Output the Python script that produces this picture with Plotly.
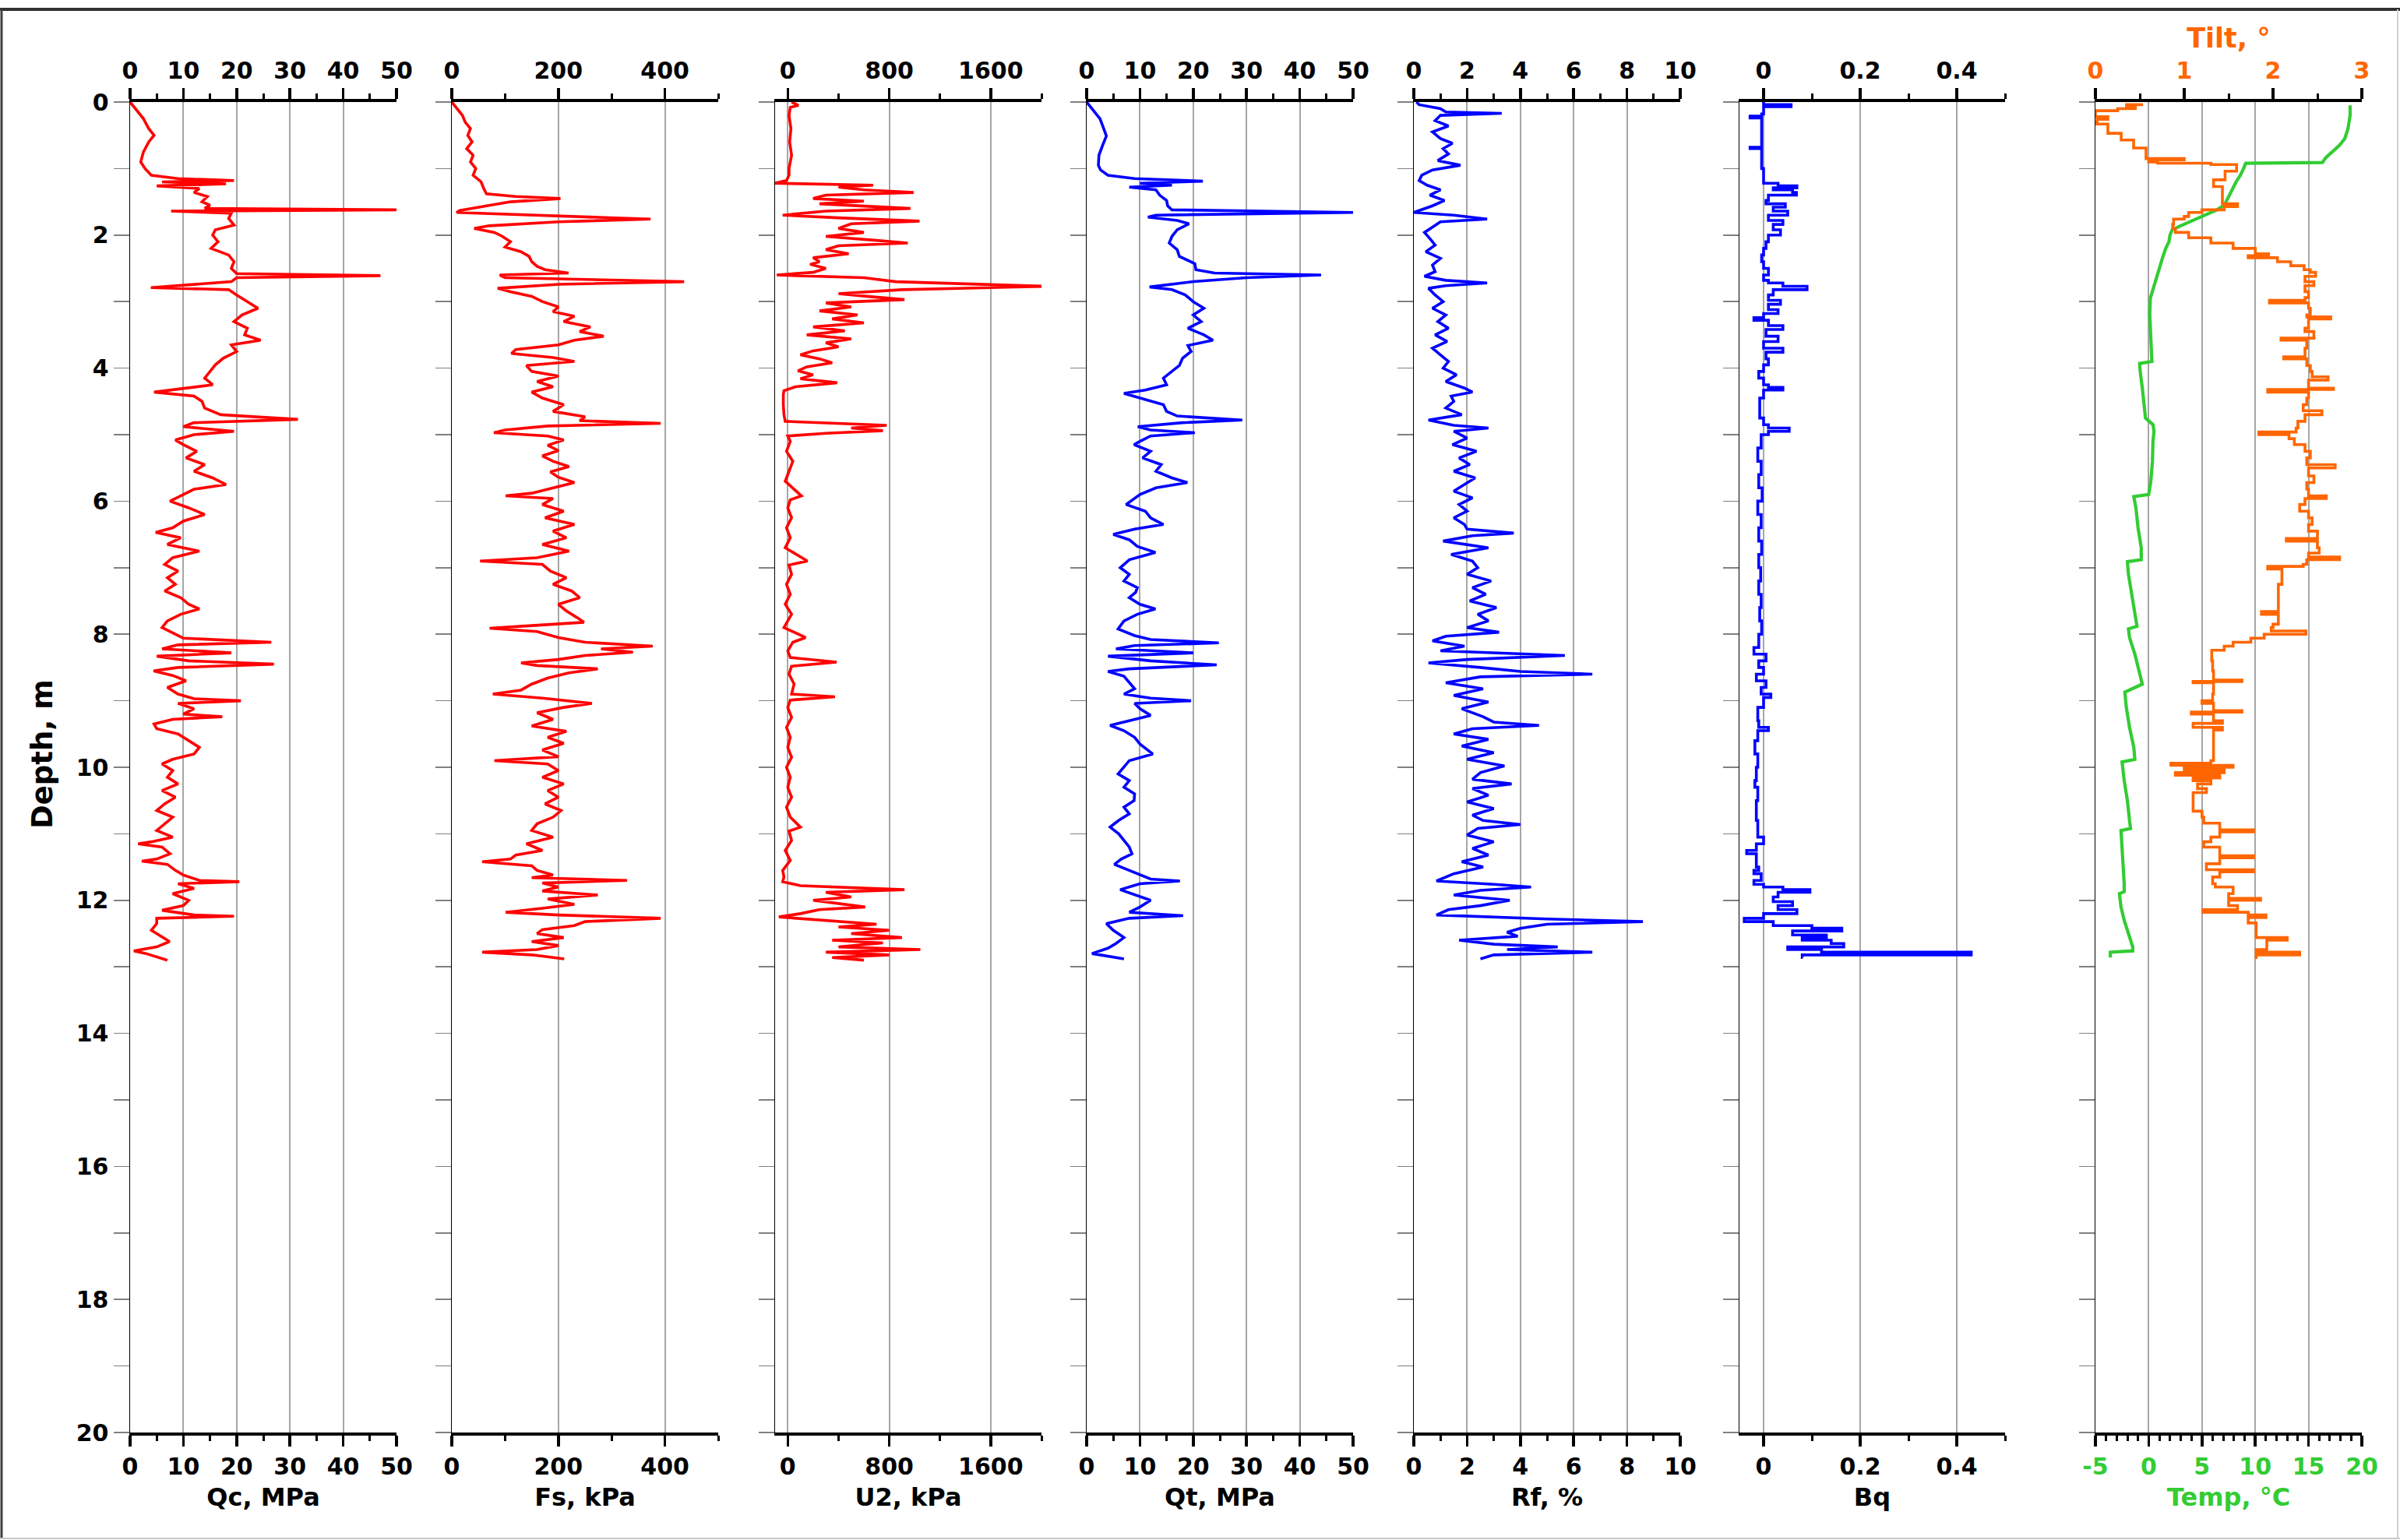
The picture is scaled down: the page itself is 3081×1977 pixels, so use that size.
import plotly.graph_objects as go

# ---------------- data ----------------
qc_depth = [0.00,0.10,0.25,0.40,0.50,0.60,0.75,0.90,1.00,1.10,
            1.15,1.18,1.20,1.23,1.26,1.30,1.36,1.42,1.50,1.55,
            1.60,1.62,1.64,1.67,1.75,1.85,1.92,2.00,2.10,2.20,
            2.30,2.40,2.50,2.58,2.61,2.64,2.70,2.79,2.82,2.90,
            3.00,3.10,3.20,3.30,3.40,3.50,3.58,3.65,3.75,3.85,
            3.95,4.05,4.15,4.25,4.32,4.36,4.42,4.50,4.60,4.70,
            4.77,4.82,4.88,4.95,5.00,5.08,5.15,5.25,5.35,5.45,
            5.55,5.65,5.75,5.82,5.90,6.00,6.10,6.20,6.30,6.40,
            6.47,6.55,6.65,6.75,6.85,6.95,7.05,7.15,7.25,7.35,
            7.45,7.55,7.62,7.70,7.80,7.90,8.00,8.06,8.12,8.16,
            8.22,8.28,8.33,8.40,8.45,8.50,8.55,8.62,8.70,8.80,
            8.90,8.97,9.00,9.04,9.12,9.20,9.24,9.28,9.35,9.42,
            9.50,9.60,9.70,9.80,9.88,9.95,10.05,10.15,10.25,10.35,
            10.45,10.55,10.65,10.75,10.85,10.95,11.05,11.12,11.15,11.20,
            11.30,11.38,11.41,11.46,11.55,11.62,11.70,11.72,11.75,11.82,
            11.90,12.00,12.08,12.15,12.22,12.24,12.27,12.35,12.45,12.55,
            12.62,12.70,12.76,12.80,12.85,12.90]
qc_mpa = [0.0,1.0,2.5,3.5,4.5,3.5,2.5,2.0,2.8,4.0,
          9.0,19.5,6.0,18.0,5.0,13.0,12.0,14.5,13.5,15.0,
          14.0,51.5,7.7,19.0,18.5,19.5,16.0,15.5,16.5,15.2,
          18.5,19.5,19.0,20.0,47.0,20.0,19.0,3.9,18.5,20.0,
          22.0,24.0,21.0,19.5,22.0,21.5,24.5,19.0,20.0,17.5,
          16.0,15.0,14.0,15.5,9.0,4.5,12.0,13.5,14.0,17.0,
          31.5,12.0,10.0,19.5,12.0,8.5,10.0,12.5,10.5,14.0,
          12.0,15.5,18.0,12.0,10.0,7.5,11.0,14.0,10.0,8.0,
          4.8,9.5,7.0,13.0,8.0,6.5,9.0,7.0,8.5,6.5,
          9.5,11.0,13.0,9.5,7.0,6.0,8.5,10.0,26.5,9.0,
          6.0,19.0,5.0,11.0,27.0,9.0,4.4,8.0,10.5,7.0,
          9.0,12.0,20.8,9.0,12.0,10.0,17.3,8.0,4.5,5.0,
          9.0,11.0,13.0,12.0,8.0,6.0,8.0,7.0,9.0,6.0,
          8.5,6.5,5.0,8.0,6.5,5.0,8.0,4.0,1.5,6.0,
          7.5,5.0,2.2,7.0,8.5,10.0,13.0,20.5,9.0,12.0,
          8.0,11.0,10.0,6.0,12.0,19.5,5.0,5.0,4.0,6.0,
          7.4,5.0,0.7,3.0,5.0,7.0]

fs_depth = [0.00,0.10,0.20,0.30,0.40,0.50,0.60,0.70,0.80,0.90,
            1.00,1.10,1.20,1.30,1.38,1.42,1.45,1.50,1.58,1.63,
            1.66,1.70,1.76,1.80,1.86,1.90,1.96,2.02,2.10,2.18,
            2.25,2.32,2.40,2.47,2.52,2.57,2.60,2.64,2.70,2.74,
            2.80,2.85,2.92,3.00,3.08,3.15,3.22,3.30,3.38,3.45,
            3.52,3.58,3.65,3.72,3.78,3.84,3.90,3.96,4.05,4.12,
            4.20,4.28,4.36,4.45,4.55,4.65,4.73,4.79,4.83,4.87,
            4.93,4.97,5.02,5.08,5.16,5.24,5.32,5.40,5.48,5.56,
            5.64,5.72,5.80,5.88,5.92,5.96,6.05,6.15,6.25,6.35,
            6.45,6.55,6.65,6.75,6.85,6.90,6.95,7.05,7.15,7.25,
            7.35,7.45,7.55,7.65,7.75,7.82,7.87,7.91,7.96,8.05,
            8.12,8.18,8.22,8.27,8.32,8.38,8.43,8.47,8.52,8.58,
            8.66,8.75,8.84,8.90,8.96,9.04,9.10,9.18,9.28,9.38,
            9.46,9.55,9.64,9.74,9.84,9.90,9.95,10.05,10.15,10.25,
            10.35,10.45,10.55,10.65,10.75,10.85,10.95,11.05,11.15,11.25,
            11.32,11.38,11.42,11.48,11.55,11.62,11.66,11.70,11.74,11.80,
            11.86,11.92,11.98,12.06,12.12,12.18,12.22,12.27,12.32,12.38,
            12.44,12.50,12.56,12.62,12.68,12.74,12.78,12.82,12.88]
fs_kpa = [0,10,20,25,35,30,38,28,40,35,
          45,40,55,60,65,120,204,110,50,15,
          9,150,373,200,70,42,80,95,110,100,
          130,145,150,160,175,219,90,100,436,200,
          86,110,150,170,200,190,230,210,260,240,
          285,230,200,120,112,190,230,140,150,200,
          160,190,150,170,210,190,250,240,392,180,
          100,79,180,210,180,200,170,190,220,185,
          200,230,190,150,101,190,170,210,175,230,
          190,215,170,220,160,53,170,185,215,190,
          225,240,200,215,235,248,150,71,160,200,
          250,377,280,340,250,200,130,160,274,220,
          180,150,130,77,170,263,210,160,190,150,
          215,180,210,170,200,80,180,200,170,210,
          180,200,175,205,190,160,150,190,140,170,
          120,110,57,150,160,190,150,329,170,200,
          170,274,180,230,170,101,200,392,250,230,
          170,160,210,150,200,160,57,150,211]

u2_depth = [0.00,0.05,0.08,0.20,0.40,0.60,0.80,1.00,1.10,1.18,
            1.22,1.25,1.28,1.32,1.36,1.40,1.45,1.49,1.53,1.57,
            1.60,1.64,1.70,1.74,1.79,1.83,1.90,1.96,2.02,2.08,
            2.12,2.16,2.22,2.28,2.34,2.40,2.44,2.50,2.56,2.60,
            2.64,2.70,2.77,2.82,2.88,2.92,2.97,3.02,3.08,3.14,
            3.20,3.26,3.32,3.38,3.44,3.50,3.56,3.62,3.68,3.74,
            3.80,3.86,3.92,3.98,4.04,4.10,4.16,4.22,4.28,4.34,
            4.40,4.55,4.70,4.80,4.83,4.86,4.90,4.94,4.98,5.02,
            5.10,5.25,5.40,5.55,5.70,5.92,5.98,6.10,6.25,6.40,
            6.55,6.70,6.90,6.96,7.10,7.25,7.40,7.55,7.70,7.90,
            8.05,8.12,8.25,8.35,8.42,8.48,8.60,8.75,8.90,8.94,
            8.99,9.10,9.25,9.40,9.55,9.70,9.85,10.00,10.15,10.30,
            10.45,10.60,10.75,10.90,10.96,11.10,11.25,11.40,11.55,11.65,
            11.72,11.78,11.84,11.88,11.95,12.00,12.06,12.10,12.14,12.20,
            12.25,12.30,12.36,12.40,12.45,12.50,12.56,12.60,12.64,12.70,
            12.74,12.78,12.82,12.86,12.90]
u2_kpa = [30,84,20,10,25,15,30,10,10,-10,
          -100,673,400,600,992,300,200,600,250,700,
          967,300,-40,400,1039,500,400,600,300,700,
          946,400,300,480,200,250,177,300,200,-87,
          600,850,2040,900,400,620,920,300,500,250,
          550,350,600,200,450,150,500,300,400,200,
          100,250,350,150,80,200,100,390,60,-30,
          -35,-35,-30,-20,400,780,500,750,300,0,
          20,-10,40,10,-20,108,20,0,30,-10,
          20,-20,155,10,30,-10,20,-20,30,-30,
          140,40,0,20,385,30,10,50,30,372,
          20,0,30,-10,20,0,30,-10,20,0,
          30,-10,20,100,10,30,-20,20,-40,-30,
          -40,100,920,300,500,200,450,610,250,100,
          -70,300,700,400,800,500,900,350,750,400,
          1045,300,800,350,600]

qt_depth = [0.00,0.10,0.25,0.40,0.51,0.65,0.80,0.95,1.02,1.10,
            1.15,1.19,1.22,1.25,1.28,1.32,1.40,1.48,1.56,1.62,
            1.66,1.70,1.73,1.78,1.83,1.92,2.02,2.12,2.22,2.32,
            2.43,2.52,2.57,2.60,2.64,2.70,2.78,2.82,2.90,3.00,
            3.10,3.20,3.30,3.40,3.50,3.58,3.66,3.75,3.85,3.96,
            4.05,4.15,4.25,4.33,4.38,4.45,4.55,4.65,4.72,4.78,
            4.82,4.88,4.93,4.97,5.02,5.10,5.15,5.25,5.35,5.45,
            5.55,5.65,5.72,5.80,5.90,6.05,6.15,6.25,6.35,6.42,
            6.50,6.58,6.68,6.77,6.88,7.00,7.10,7.20,7.30,7.37,
            7.45,7.55,7.62,7.70,7.80,7.92,8.02,8.08,8.13,8.17,
            8.22,8.28,8.33,8.40,8.46,8.52,8.56,8.63,8.73,8.82,
            8.90,8.96,9.00,9.04,9.12,9.22,9.30,9.37,9.45,9.55,
            9.65,9.80,9.90,10.00,10.10,10.20,10.30,10.40,10.50,10.60,
            10.70,10.80,10.90,11.00,11.10,11.20,11.30,11.38,11.46,11.55,
            11.62,11.68,11.71,11.75,11.84,11.92,12.00,12.10,12.18,12.21,
            12.23,12.27,12.35,12.45,12.56,12.65,12.72,12.80,12.84,12.88]
qt_mpa = [0.0,1.0,2.5,3.2,3.7,3.0,2.3,2.2,2.6,4.0,
          9.0,21.8,10.0,16.0,8.0,13.0,13.7,15.0,15.2,16.0,
          50.0,13.0,11.5,17.0,19.2,17.0,16.0,15.5,17.0,17.4,
          20.3,20.5,24.0,44.0,30.0,20.0,11.8,16.0,18.5,20.0,
          22.0,20.0,21.5,19.0,22.0,23.7,19.0,19.6,18.0,17.4,
          15.9,14.4,15.0,11.0,7.0,10.0,14.4,15.0,17.0,29.2,
          18.0,9.6,12.0,20.3,12.0,10.0,8.9,12.0,10.5,14.0,
          13.0,16.0,18.9,13.0,10.0,7.4,11.0,12.0,14.4,9.0,
          5.0,8.0,9.5,12.9,8.0,6.3,8.0,7.0,9.5,9.2,
          8.0,10.0,12.9,9.5,7.0,5.9,9.0,12.0,24.8,9.0,
          5.5,20.0,4.0,12.0,24.4,8.0,4.0,7.0,8.0,9.0,
          7.0,12.0,19.6,9.0,10.0,12.0,8.0,4.4,7.0,9.0,
          10.0,12.4,8.0,7.0,5.9,8.0,7.0,9.0,8.9,7.0,
          8.0,6.0,4.4,6.0,7.0,8.0,8.5,6.5,5.2,8.0,
          10.0,12.0,17.5,10.0,6.3,9.0,12.0,10.0,8.0,14.0,
          18.1,8.0,3.7,5.0,7.0,5.5,4.0,1.0,4.0,7.0]

rf_depth = [0.00,0.04,0.10,0.15,0.17,0.20,0.28,0.36,0.45,0.55,
            0.62,0.70,0.78,0.88,0.95,1.02,1.10,1.18,1.25,1.32,
            1.40,1.48,1.56,1.62,1.66,1.70,1.76,1.80,1.88,1.96,
            2.05,2.15,2.25,2.35,2.45,2.55,2.62,2.68,2.72,2.76,
            2.80,2.90,3.00,3.10,3.20,3.30,3.40,3.50,3.60,3.70,
            3.80,3.90,4.00,4.10,4.20,4.30,4.36,4.42,4.50,4.60,
            4.70,4.78,4.86,4.90,4.95,5.05,5.15,5.25,5.35,5.45,
            5.55,5.65,5.75,5.85,5.95,6.05,6.15,6.25,6.35,6.42,
            6.48,6.52,6.60,6.70,6.80,6.90,7.00,7.10,7.20,7.30,
            7.40,7.50,7.60,7.70,7.80,7.90,7.97,8.03,8.10,8.18,
            8.25,8.32,8.38,8.43,8.50,8.56,8.60,8.64,8.73,8.82,
            8.92,9.02,9.12,9.24,9.32,9.37,9.42,9.50,9.58,9.68,
            9.78,9.88,9.98,10.08,10.18,10.25,10.32,10.42,10.52,10.62,
            10.72,10.80,10.86,10.92,11.02,11.12,11.22,11.32,11.42,11.50,
            11.60,11.68,11.71,11.76,11.80,11.85,11.92,12.00,12.08,12.14,
            12.20,12.22,12.28,12.32,12.36,12.42,12.48,12.54,12.60,12.66,
            12.70,12.74,12.78,12.82,12.88]
rf_pct = [0.1,0.2,1.0,1.2,3.3,1.0,0.8,1.3,0.7,1.0,
          1.45,1.1,1.3,0.9,1.75,0.7,0.3,0.2,0.5,1.0,
          0.6,1.15,0.7,0.3,0.0,1.5,2.75,1.0,0.7,0.4,
          0.6,0.8,0.45,1.0,0.7,0.8,0.4,1.2,2.75,1.2,
          0.55,0.8,1.1,0.7,1.2,0.9,1.3,0.8,1.25,0.7,
          1.0,1.3,1.1,1.6,1.2,1.9,2.2,1.4,1.5,1.2,
          1.8,0.55,1.5,2.8,1.5,2.0,1.45,2.35,1.7,2.1,
          1.5,2.3,1.9,1.5,2.2,1.7,2.0,1.5,1.9,2.0,
          3.75,2.2,1.1,2.8,1.4,2.2,2.4,2.0,2.9,2.2,
          2.7,2.1,3.1,2.4,2.8,2.0,3.2,1.2,0.7,1.9,
          1.0,5.67,2.0,0.55,2.5,4.0,6.7,2.5,1.2,2.6,
          1.5,2.8,1.8,2.6,3.0,4.7,2.2,1.5,2.8,1.8,
          3.0,2.0,3.4,2.5,2.2,3.67,2.2,2.8,2.0,3.0,
          2.2,2.6,4.0,2.4,2.0,3.0,2.2,2.8,1.8,2.6,
          1.5,1.0,0.85,3.0,4.4,2.5,1.5,3.6,2.5,1.3,
          1.0,0.85,5.0,8.6,5.0,4.0,3.5,3.9,1.7,3.0,
          5.4,3.5,6.7,3.0,2.5]

bq_depth = [0.00,0.04,0.07,0.18,0.21,0.24,0.66,0.68,0.70,0.95,
            1.00,1.18,1.22,1.26,1.29,1.32,1.36,1.40,1.48,1.53,
            1.58,1.64,1.70,1.78,1.84,1.92,2.00,2.10,2.20,2.30,
            2.40,2.50,2.60,2.68,2.72,2.77,2.82,2.90,2.98,3.04,
            3.12,3.18,3.24,3.28,3.36,3.42,3.52,3.60,3.70,3.76,
            3.86,3.95,4.05,4.15,4.25,4.29,4.33,4.45,4.60,4.75,
            4.85,4.90,4.95,5.00,5.20,5.40,5.60,5.80,6.00,6.20,
            6.40,6.60,6.80,7.00,7.20,7.40,7.60,7.80,8.00,8.20,
            8.30,8.40,8.50,8.60,8.70,8.80,8.90,8.95,9.10,9.30,
            9.40,9.45,9.60,9.80,10.00,10.20,10.30,10.50,10.80,11.00,
            11.05,11.15,11.25,11.30,11.50,11.55,11.60,11.70,11.76,11.80,
            11.84,11.88,11.95,12.02,12.08,12.14,12.20,12.27,12.32,12.38,
            12.42,12.46,12.52,12.56,12.60,12.65,12.70,12.74,12.78,12.82,
            12.86]
bq_val = [0.0,0.057,0.0,-0.004,-0.028,-0.004,-0.004,-0.028,-0.004,-0.004,
          0.0,0.0,0.03,0.069,0.02,0.06,0.068,0.01,0.005,0.045,
          0.02,0.05,0.01,0.04,0.02,0.035,0.01,0.005,0.0,-0.004,
          0.0,0.01,0.0,0.01,0.04,0.09,0.02,0.01,0.035,0.01,
          0.03,0.0,-0.02,0.01,0.04,0.005,0.03,0.0,0.04,0.005,
          0.01,0.0,-0.01,0.0,0.01,0.04,0.0,-0.008,-0.008,0.0,
          0.01,0.053,0.01,-0.005,-0.012,-0.005,-0.01,-0.003,-0.012,-0.005,
          -0.01,-0.004,-0.01,-0.006,-0.01,-0.005,-0.008,-0.004,-0.01,-0.02,
          0.005,-0.01,0.0,-0.015,0.005,-0.005,0.015,0.0,-0.012,-0.01,
          0.01,-0.012,-0.018,-0.012,-0.015,-0.018,-0.012,-0.015,-0.012,-0.012,
          0.0,-0.015,-0.035,-0.015,-0.01,-0.02,-0.005,-0.02,0.0,0.04,
          0.096,0.03,0.02,0.06,0.03,0.069,0.0,-0.04,0.02,0.1,
          0.162,0.06,0.13,0.08,0.14,0.166,0.05,0.12,0.43,0.08,
          0.081]

tilt_depth = [0.02,0.04,0.07,0.10,0.13,0.20,0.22,0.26,0.30,0.33,
              0.45,0.47,0.55,0.57,0.66,0.69,0.83,0.85,0.87,0.90,
              0.92,0.94,1.02,1.04,1.14,1.17,1.24,1.27,1.50,1.53,
              1.57,1.62,1.66,1.72,1.76,1.84,1.90,1.96,2.04,2.12,
              2.20,2.28,2.31,2.34,2.40,2.46,2.52,2.56,2.62,2.70,
              2.76,2.85,2.94,2.98,3.02,3.10,3.20,3.23,3.26,3.40,
              3.45,3.55,3.58,3.70,3.83,3.86,3.96,4.05,4.13,4.18,
              4.30,4.32,4.36,4.45,4.55,4.64,4.70,4.80,4.90,4.96,
              5.00,5.06,5.15,5.25,5.35,5.45,5.50,5.62,5.72,5.82,
              5.92,5.96,6.05,6.15,6.25,6.35,6.45,6.56,6.60,6.70,
              6.78,6.84,6.88,6.95,6.98,7.02,7.20,7.25,7.50,7.66,
              7.70,7.85,7.90,7.95,8.00,8.06,8.12,8.18,8.24,8.40,
              8.55,8.69,8.71,8.73,8.90,9.00,9.04,9.15,9.17,9.20,
              9.30,9.34,9.40,9.44,9.60,9.80,9.90,9.94,9.97,10.00,
              10.04,10.08,10.12,10.16,10.20,10.25,10.32,10.38,10.50,10.62,
              10.66,10.75,10.84,10.94,10.97,11.05,11.12,11.20,11.33,11.36,
              11.45,11.54,11.57,11.65,11.75,11.80,11.90,11.97,12.00,12.08,
              12.14,12.18,12.22,12.26,12.34,12.48,12.56,12.60,12.70,12.74,
              12.78,12.82,12.88]
tilt_deg = [0.52,0.35,0.45,0.25,0.0,0.0,0.14,0.02,0.0,0.14,
            0.14,0.29,0.29,0.43,0.43,0.57,0.57,1.0,0.6,0.7,
            1.3,1.59,1.59,1.46,1.46,1.33,1.33,1.43,1.43,1.6,
            1.45,1.2,1.05,1.0,0.88,0.87,0.9,1.05,1.3,1.55,
            1.8,1.95,1.72,2.05,2.2,2.35,2.42,2.48,2.36,2.46,
            2.36,2.40,2.36,1.96,2.40,2.42,2.38,2.65,2.40,2.36,
            2.46,2.09,2.38,2.36,2.12,2.38,2.42,2.44,2.62,2.40,
            2.68,1.94,2.40,2.38,2.34,2.55,2.36,2.28,2.26,1.84,
            2.18,2.24,2.36,2.42,2.38,2.70,2.40,2.46,2.38,2.40,
            2.60,2.36,2.30,2.40,2.44,2.40,2.50,2.15,2.50,2.52,
            2.40,2.75,2.38,2.34,1.94,2.10,2.10,2.06,2.06,1.87,
            2.06,2.00,1.98,2.37,1.90,1.75,1.55,1.45,1.31,1.32,
            1.33,1.65,1.10,1.33,1.32,1.20,1.33,1.65,1.08,1.33,
            1.43,1.10,1.43,1.33,1.33,1.33,1.30,0.85,1.55,1.0,
            1.45,0.9,1.40,1.1,1.30,1.15,1.25,1.10,1.10,1.10,
            1.20,1.22,1.40,1.78,1.40,1.30,1.22,1.40,1.78,1.40,
            1.25,1.78,1.40,1.32,1.35,1.55,1.50,1.86,1.50,1.60,
            1.21,1.72,1.92,1.72,1.81,1.81,2.16,1.93,1.93,1.81,
            2.30,1.81,1.81]

temp_depth = [0.05,0.20,0.40,0.55,0.65,0.75,0.84,0.91,0.92,1.00,
              1.10,1.20,1.30,1.45,1.55,1.62,1.70,1.79,1.86,1.92,
              2.00,2.10,2.20,2.34,2.50,2.60,2.75,2.85,2.95,3.20,
              3.50,3.80,3.90,3.93,4.05,4.30,4.50,4.75,4.85,4.95,
              5.10,5.40,5.70,5.90,5.93,6.10,6.40,6.70,6.88,6.91,
              7.10,7.40,7.70,7.88,7.92,8.05,8.30,8.55,8.75,8.87,
              9.10,9.40,9.70,9.88,9.92,10.20,10.50,10.80,10.92,10.95,
              11.20,11.50,11.75,11.87,11.90,12.10,12.30,12.50,12.70,12.76,
              12.78,12.86]
temp_c = [18.9,18.9,18.7,18.4,17.9,17.2,16.6,16.3,9.1,8.9,
          8.6,8.2,7.9,7.4,7.1,6.4,5.2,4.0,3.0,2.2,
          2.0,1.9,1.6,1.3,1.0,0.8,0.5,0.3,0.15,0.1,
          0.2,0.3,0.3,-0.85,-0.8,-0.6,-0.5,-0.3,0.4,0.5,
          0.4,0.35,0.2,0.0,-1.4,-1.2,-1.0,-0.7,-0.7,-2.0,
          -1.9,-1.6,-1.3,-1.1,-1.9,-1.8,-1.3,-0.9,-0.6,-2.24,
          -2.1,-1.8,-1.4,-1.3,-2.5,-2.3,-2.0,-1.8,-1.7,-2.6,
          -2.5,-2.35,-2.3,-2.3,-2.75,-2.6,-2.3,-1.9,-1.5,-1.5,
          -3.6,-3.6]

depth_ticks = list(range(0, 21))
depth_labels = [str(v) if v % 2 == 0 else "" for v in depth_ticks]
temp_ticks = [-5, 0, 5, 10, 15, 20]
temp_labels = ["-5", "0", "5", "10", "15", "20"]

for a, b in [(qc_depth, qc_mpa), (fs_depth, fs_kpa), (u2_depth, u2_kpa), (qt_depth, qt_mpa),
             (rf_depth, rf_pct), (bq_depth, bq_val), (tilt_depth, tilt_deg), (temp_depth, temp_c)]:
    assert len(a) == len(b), (len(a), len(b))

# ---------------- layout geometry / styling ----------------
W, H = 3081, 1977
Y_TOP, Y_BOT = 131, 1839
FONT = "DejaVu Sans, Liberation Sans, sans-serif"
GRID = "#A6A6A6"
RED, BLUE, ORANGE, GREEN = "#FF0000", "#0000FF", "#FF6600", "#33CC33"
TICK_SIZE = 30
TITLE_SIZE = 32


def fx(p):
    return p / W


def fy(p):
    return 1 - p / H


panels = [
    dict(left=167, right=509, rng=[0, 50], dtick=10, minor=5, title="Qc, MPa"),
    dict(left=580, right=922, rng=[0, 500], dtick=200, minor=100, title="Fs, kPa"),
    dict(left=995, right=1337, rng=[-100, 2000], dtick=800, minor=400, title="U2, kPa"),
    dict(left=1395, right=1737, rng=[0, 50], dtick=10, minor=5, title="Qt, MPa"),
    dict(left=1815, right=2157, rng=[0, 10], dtick=2, minor=1, title="Rf, %"),
    dict(left=2233, right=2574, rng=[-0.05, 0.5], dtick=0.2, minor=0.1, title="Bq"),
    dict(left=2690, right=3032, rng=[-5, 20], dtick=5, minor=1, title="Temp, °C"),
]

fig = go.Figure()


def ax(i):
    return "x" if i == 1 else f"x{i}"


def ay(i):
    return "y" if i == 1 else f"y{i}"


series = [
    (qc_depth, qc_mpa, RED, 1, 1, "linear", 3.6),
    (fs_depth, fs_kpa, RED, 2, 2, "linear", 3.6),
    (u2_depth, u2_kpa, RED, 3, 3, "linear", 3.6),
    (qt_depth, qt_mpa, BLUE, 4, 4, "linear", 3.6),
    (rf_depth, rf_pct, BLUE, 5, 5, "linear", 3.6),
    (bq_depth, bq_val, BLUE, 6, 6, "vh", 3.6),
    (temp_depth, temp_c, GREEN, 7, 7, "linear", 4.2),
    (tilt_depth, tilt_deg, ORANGE, 14, 7, "vh", 3.6),
]
for d, v, color, xi, yi, shape, lw in series:
    fig.add_trace(go.Scatter(x=v, y=d, mode="lines",
                             line=dict(color=color, width=lw, shape=shape),
                             xaxis=ax(xi), yaxis=ay(yi), showlegend=False, hoverinfo="skip"))
# register the mirrored top axes of the first six panels
for i in range(1, 7):
    fig.add_trace(go.Scatter(x=[None], y=[None], xaxis=ax(i + 7), yaxis=ay(i),
                             showlegend=False, hoverinfo="skip"))

layout = dict(width=W, height=H, autosize=False, margin=dict(l=0, r=0, t=0, b=0),
              paper_bgcolor="white", plot_bgcolor="white", showlegend=False)

ydom = [fy(Y_BOT), fy(Y_TOP)]
for i, p in enumerate(panels, start=1):
    dom = [fx(p["left"]), fx(p["right"])]
    is_temp = (i == 7)
    lab_col = GREEN if is_temp else "black"
    bottom = dict(
        domain=dom, anchor=ay(i), side="bottom", range=p["rng"],
        showline=True, linecolor="black", linewidth=4,
        ticks="outside", ticklen=14, tickwidth=3.5, tickcolor="black",
        minor=dict(ticks="outside", ticklen=7, tickwidth=3, tickcolor="black",
                   dtick=p["minor"], showgrid=False),
        showgrid=True, gridcolor=GRID, gridwidth=2, zeroline=False,
        tickfont=dict(family=FONT, size=TICK_SIZE, color=lab_col, weight="bold"),
        title=dict(text=p["title"], standoff=13,
                   font=dict(family=FONT, size=TITLE_SIZE, color=lab_col, weight="bold")),
        automargin=False, fixedrange=True,
    )
    if is_temp:
        bottom.update(tickmode="array", tickvals=temp_ticks, ticktext=temp_labels)
    else:
        bottom.update(tickmode="linear", tick0=0, dtick=p["dtick"])
    layout["xaxis" if i == 1 else f"xaxis{i}"] = bottom

    if is_temp:
        top_rng, top_dtick, top_minor, top_col = [0, 3], 1, 0.5, ORANGE
        top_title = dict(text="Tilt, °", standoff=2,
                         font=dict(family=FONT, size=35, color=ORANGE, weight="bold"))
    else:
        top_rng, top_dtick, top_minor, top_col = p["rng"], p["dtick"], p["minor"], "black"
        top_title = None
    top = dict(
        overlaying=ax(i), anchor=ay(i), side="top", range=top_rng,
        showline=True, linecolor="black", linewidth=4,
        tickmode="linear", tick0=0, dtick=top_dtick,
        ticks="outside", ticklen=14, tickwidth=3.5, tickcolor="black",
        minor=dict(ticks="outside", ticklen=7, tickwidth=3, tickcolor="black",
                   dtick=top_minor, showgrid=False),
        showgrid=False, zeroline=False,
        tickfont=dict(family=FONT, size=TICK_SIZE, color=top_col, weight="bold"),
        automargin=False, fixedrange=True,
    )
    if top_title:
        top["title"] = top_title
    layout[f"xaxis{i + 7}"] = top

    yax = dict(
        domain=ydom, anchor=ax(i), side="left", range=[20, 0],
        showline=True, linecolor="black", linewidth=1.5,
        tickmode="array", tickvals=depth_ticks, ticktext=depth_labels,
        ticks="outside", ticklen=20, tickwidth=1.5, tickcolor="#808080",
        showticklabels=(i == 1), showgrid=False, zeroline=False,
        tickfont=dict(family=FONT, size=TICK_SIZE, color="black", weight="bold"),
        automargin=False, fixedrange=True,
    )
    layout["yaxis" if i == 1 else f"yaxis{i}"] = yax

layout["annotations"] = [dict(
    text="Depth, m", x=fx(54), y=fy(968), xref="paper", yref="paper",
    showarrow=False, textangle=-90, xanchor="center", yanchor="middle",
    font=dict(family=FONT, size=37, color="black", weight="bold"))]

layout["shapes"] = [
    dict(type="line", xref="paper", yref="paper", x0=0, x1=1, y0=fy(12), y1=fy(12),
         line=dict(color="#303030", width=4)),
    dict(type="line", xref="paper", yref="paper", x0=fx(2), x1=fx(2), y0=fy(12), y1=fy(1976),
         line=dict(color="#404040", width=3)),
    dict(type="line", xref="paper", yref="paper", x0=0, x1=1, y0=fy(1975), y1=fy(1975),
         line=dict(color="#C8C8C8", width=2)),
    dict(type="line", xref="paper", yref="paper", x0=fx(3078), x1=fx(3078), y0=fy(12), y1=fy(1976),
         line=dict(color="#D0D0D0", width=2)),
]

fig.update_layout(**layout)
fig.write_html("out.html", config={"displayModeBar": False, "staticPlot": True},
               post_script="document.body.style.margin='0';")
